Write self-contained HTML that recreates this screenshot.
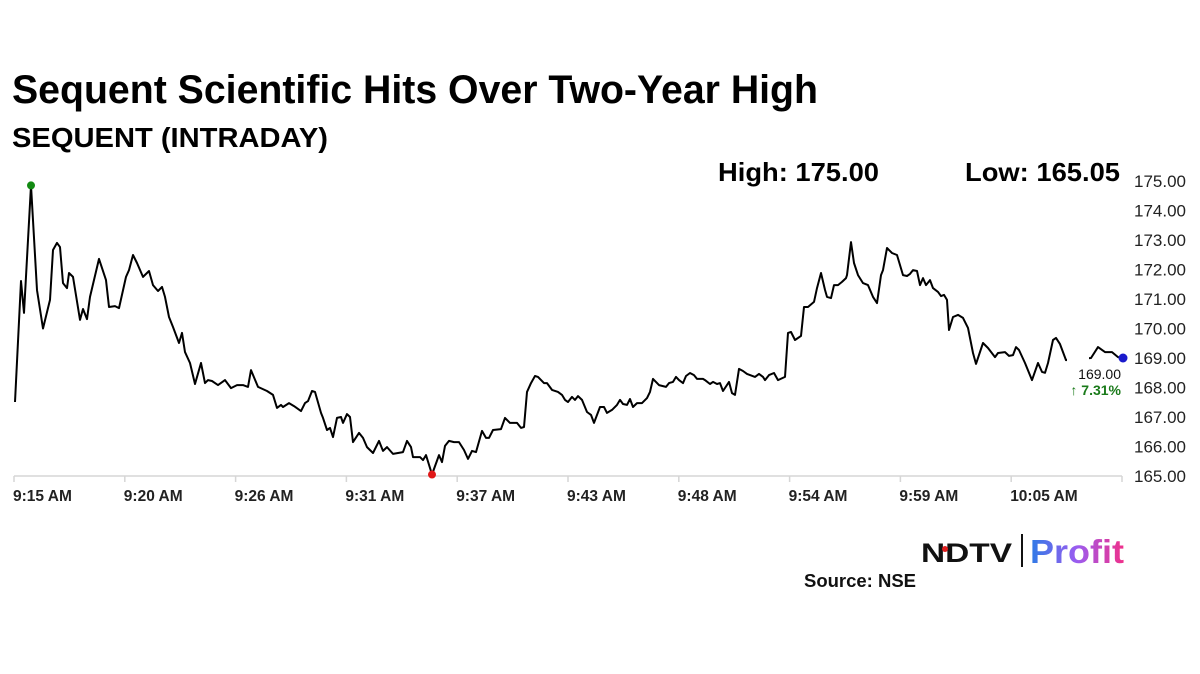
<!DOCTYPE html>
<html><head><meta charset="utf-8"><style>
html,body{margin:0;padding:0;background:#fff;}
svg{display:block;font-family:"Liberation Sans",sans-serif;}
</style></head><body>
<svg id="chart" width="1200" height="674" viewBox="0 0 1200 674">
<text x="12" y="103" font-size="40" font-weight="bold" fill="#000" textLength="806" lengthAdjust="spacingAndGlyphs">Sequent Scientific Hits Over Two-Year High</text>
<text x="12" y="147" font-size="28" font-weight="bold" fill="#000" textLength="316" lengthAdjust="spacingAndGlyphs">SEQUENT (INTRADAY)</text>
<text x="718" y="181" font-size="26" font-weight="bold" fill="#000" textLength="161" lengthAdjust="spacingAndGlyphs">High: 175.00</text>
<text x="965" y="181" font-size="26" font-weight="bold" fill="#000" textLength="155" lengthAdjust="spacingAndGlyphs">Low: 165.05</text>
<g id="axes"></g>
<g id="plot"></g>
<g>
<defs><linearGradient id="pg" x1="0" x2="1" y1="0" y2="0"><stop offset="0" stop-color="#2e7be6"/><stop offset="0.5" stop-color="#9b5cf0"/><stop offset="1" stop-color="#f0308a"/></linearGradient></defs>
<text x="921" y="562" font-size="27" font-weight="bold" fill="#111" textLength="91" lengthAdjust="spacingAndGlyphs">NDTV</text>
<circle cx="945" cy="549" r="3" fill="#e02020"/>
<rect x="1021" y="534" width="2" height="33" fill="#111"/>
<text x="1030" y="563" font-size="33" font-weight="bold" fill="url(#pg)" textLength="94" lengthAdjust="spacingAndGlyphs">Profit</text>
</g>
<text x="804" y="587" font-size="18" font-weight="bold" fill="#111" textLength="112" lengthAdjust="spacingAndGlyphs">Source: NSE</text>
</svg>
<script>
const secs=[3,21,30,51,69,87,108,117,129,138,147,159,165,177,198,207,219,228,255,276,285,303,315,336,345,357,369,387,405,417,432,444,453,465,477,495,504,513,528,543,561,573,582,594,612,633,651,669,687,702,711,732,759,777,789,801,807,825,840,861,873,882,894,903,921,927,939,948,957,969,981,987,999,1008,1017,1035,1047,1059,1077,1095,1107,1119,1137,1167,1179,1191,1197,1218,1227,1236,1254,1275,1284,1293,1305,1320,1335,1350,1362,1374,1386,1404,1416,1425,1437,1461,1473,1488,1509,1521,1530,1539,1551,1563,1572,1590,1599,1614,1632,1644,1653,1662,1674,1683,1692,1704,1719,1731,1740,1758,1770,1779,1794,1809,1818,1827,1839,1848,1857,1869,1884,1899,1908,1917,1935,1956,1965,1977,1986,1995,2007,2016,2028,2040,2049,2067,2073,2088,2097,2109,2118,2127,2145,2154,2163,2175,2187,2199,2223,2235,2247,2253,2265,2280,2292,2313,2322,2331,2343,2361,2370,2382,2400,2409,2421,2433,2439,2451,2460,2472,2484,2496,2499,2511,2520,2532,2547,2562,2577,2589,2601,2607,2619,2634,2649,2667,2679,2688,2697,2709,2718,2727,2736,2748,2757,2772,2781,2790,2799,2805,2817,2832,2847,2862,2877,2886,2907,2922,2943,2952,2973,2985,2997,3006,3015,3033,3054,3072,3084,3093,3102,3117,3126,3138,3156,3231,3252,3273,3294,3312,3327];
const prices=[167.51,171.61,170.53,174.85,171.3,170.0,170.97,172.66,172.9,172.76,171.54,171.37,171.88,171.75,170.29,170.66,170.32,171.07,172.36,171.64,170.73,170.76,170.69,171.75,171.98,172.49,172.22,171.75,171.95,171.47,171.27,171.41,171.07,170.39,170.05,169.51,169.85,169.2,168.83,168.12,168.83,168.15,168.25,168.22,168.08,168.25,167.98,168.08,168.08,168.02,168.59,168.02,167.88,167.75,167.31,167.41,167.34,167.47,167.37,167.2,167.47,167.54,167.88,167.85,167.14,166.97,166.56,166.63,166.32,166.97,167.0,166.8,167.1,167.0,166.15,166.46,166.29,165.98,165.78,166.19,165.85,165.98,165.75,165.81,166.19,165.98,165.64,165.64,165.54,165.71,165.05,165.71,165.47,166.02,166.19,166.15,166.15,165.88,165.58,165.85,165.81,166.53,166.29,166.29,166.56,166.59,166.97,166.8,166.8,166.63,166.66,167.85,168.15,168.39,168.36,168.15,168.15,167.92,167.85,167.75,167.58,167.51,167.68,167.58,167.71,167.58,167.17,167.07,166.8,167.34,167.34,167.14,167.24,167.41,167.58,167.44,167.41,167.61,167.34,167.47,167.47,167.64,167.85,168.29,168.08,168.02,168.15,168.19,168.36,168.25,168.15,168.39,168.49,168.42,168.29,168.29,168.25,168.12,168.19,168.12,168.15,167.88,168.19,167.81,167.75,168.63,168.56,168.46,168.36,168.46,168.36,168.25,168.42,168.49,168.25,168.36,169.85,169.88,169.61,169.75,170.73,170.73,170.9,171.37,171.88,171.31,171.07,171.03,171.47,171.47,171.58,171.71,171.81,172.93,172.22,171.81,171.54,171.47,171.07,170.86,171.81,171.98,172.73,172.56,172.49,171.81,171.78,171.85,171.98,171.95,171.47,171.71,171.47,171.64,171.37,171.24,171.1,171.14,170.97,169.95,170.39,170.46,170.36,170.02,169.17,168.8,169.51,169.34,169.03,169.17,169.2,169.07,169.1,169.37,169.27,168.83,168.25,168.83,168.53,168.5,168.83,169.61,169.68,169.47,168.93,169.0,169.37,169.2,169.2,169.03,169.0];
const xTickLabels=["9:15 AM","9:20 AM","9:26 AM","9:31 AM","9:37 AM","9:43 AM","9:48 AM","9:54 AM","9:59 AM","10:05 AM"];
const yTicks=[165,166,167,168,169,170,171,172,173,174,175];
const lastPrice=[169.00];
const changePct=[7.31];

const NS="http://www.w3.org/2000/svg";
const X0=14,X1=1122,TMAX=3324,Y0=476,Y1=181,PMIN=165,PMAX=175;
function xs(t){return X0+(t/TMAX)*(X1-X0);}
function ys(p){return Y0-(p-PMIN)/(PMAX-PMIN)*(Y0-Y1);}
function mk(tag,attrs,parent){const e=document.createElementNS(NS,tag);for(const k in attrs)e.setAttribute(k,attrs[k]);parent.appendChild(e);return e;}
const axes=document.getElementById('axes'),plot=document.getElementById('plot');

const ax=mk('line',{x1:X0,x2:X1,y1:Y0,y2:Y0,stroke:'#d6d6d6','stroke-width':1.5},axes);


for(let k=0;k<=10;k++){
  const tx=X0+k*(X1-X0)/10;
  const tk=mk('line',{x1:tx,x2:tx,y1:Y0,y2:Y0+6,stroke:'#d6d6d6','stroke-width':1.5},axes);
  
  
  if(k<xTickLabels.length){
    const lb=mk('text',{x:tx-1,y:501,'font-size':15.5,'font-weight':'bold',fill:'#222'},axes);
    lb.textContent=xTickLabels[k];
    
    
  }
}
yTicks.forEach(v=>{
  const lb=mk('text',{x:1134,y:ys(v)+6,'font-size':17,fill:'#222'},axes);
  lb.textContent=v.toFixed(2);
  
  
});

let d='';
secs.forEach((t,i)=>{d+=(i?'L':'M')+xs(t).toFixed(1)+','+ys(prices[i]).toFixed(1);});
const path=mk('path',{d:d,fill:'none',stroke:'#000','stroke-width':2,'stroke-linejoin':'round'},plot);



let hi=0,lo=0;
prices.forEach((p,i)=>{if(p>prices[hi])hi=i;if(p<prices[lo])lo=i;});
const hd=mk('circle',{cx:xs(secs[hi]),cy:ys(prices[hi]),r:4,fill:'#128a12'},plot);


const ld=mk('circle',{cx:xs(secs[lo]),cy:ys(prices[lo]),r:4,fill:'#e01818'},plot);


const li=prices.length-1;
const lx=xs(secs[li]),ly=ys(prices[li]);
const bg=mk('rect',{x:lx-56,y:ly-18,width:22,height:26,fill:'#fff'},plot);


const cd=mk('circle',{cx:lx,cy:ly,r:4.5,fill:'#1a1acc'},plot);


const lt=mk('text',{x:lx-2,y:ly+21,'font-size':14,fill:'#111','text-anchor':'end'},plot);
lt.textContent=lastPrice[0].toFixed(2);


const ct=mk('text',{x:lx-2,y:ly+37,'font-size':14,'font-weight':'bold',fill:'#1a7a1a','text-anchor':'end'},plot);
ct.textContent='\u2191 '+changePct[0].toFixed(2)+'%';


</script>
</body></html>
